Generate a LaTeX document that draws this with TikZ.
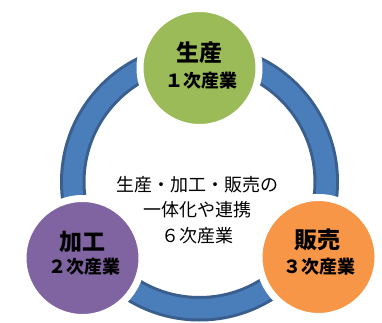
\documentclass[tikz,border=0pt]{standalone}
\usepackage{fontspec}
\newfontfamily\jp{Noto Sans CJK JP}
\usetikzlibrary{shadows}
\definecolor{ringblue}{HTML}{4A7EBB}
\definecolor{ringdark}{HTML}{3A5F8E}
\definecolor{cgreen}{HTML}{9BBB59}
\definecolor{cpurple}{HTML}{8064A2}
\definecolor{corange}{HTML}{F79646}
\tikzset{
  stage/.style={circle, draw=white, line width=7pt, minimum size=119pt, inner sep=0pt,
    drop shadow={shadow xshift=1.5pt, shadow yshift=-2.5pt, opacity=0.22, fill=black}},
  bigtxt/.style={font=\jp\bfseries\fontsize{23}{23}\selectfont, inner sep=0pt},
  smalltxt/.style={font=\jp\bfseries\fontsize{18}{18}\selectfont, inner sep=0pt},
  midtxt/.style={font=\jp\fontsize{18}{25.5}\selectfont, align=center, inner sep=0pt}
}
\begin{document}
\begin{tikzpicture}[x=1pt,y=1pt]
\useasboundingbox[fill=white] (0,0) rectangle (382,323);
% ring
\coordinate (c) at (199.5,141);
\draw[ringdark, line width=25.5pt] (c) circle (126.75);
\draw[ringblue, line width=19.5pt] (c) circle (126.75);
% stages
\node[stage, fill=cgreen] (g) at (199.5,255) {};
\node[stage, fill=cpurple] (p) at (82.5,65) {};
\node[stage, fill=corange] (o) at (318.5,66) {};
% labels
\node[bigtxt] (gt1) at (199.5,270) {生産};
\node[smalltxt] (gt2) at (201,242) {１次産業};
\node[bigtxt] (pt1) at (82.5,81) {加工};
\node[smalltxt] (pt2) at (84,56) {２次産業};
\node[bigtxt] (ot1) at (317.5,83) {販売};
\node[smalltxt] (ot2) at (319,56) {３次産業};
\node[midtxt] (m) at (197.5,113) {生産・加工・販売の\\一体化や連携\\６次産業};
\end{tikzpicture}
\end{document}
